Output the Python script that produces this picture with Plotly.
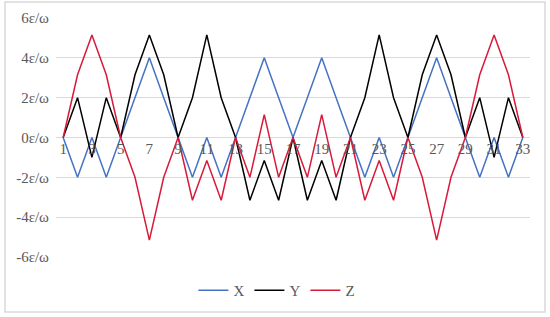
import plotly.graph_objects as go

# Data (units of epsilon/omega)
steps = list(range(1, 34))
x_vals = [0, -2, 0, -2, 0, 2, 4, 2, 0, -2, 0, -2, 0, 2, 4, 2, 0,
          2, 4, 2, 0, -2, 0, -2, 0, 2, 4, 2, 0, -2, 0, -2, 0]
y_vals = [0, 2, -1, 2, 0, 3.15, 5.15, 3.15, 0, 2, 5.15, 2, 0, -3.15, -1.15, -3.15, 0,
          -3.15, -1.15, -3.15, 0, 2, 5.15, 2, 0, 3.15, 5.15, 3.15, 0, 2, -1, 2, 0]
z_vals = [0, 3.15, 5.15, 3.15, 0, -2, -5.15, -2, 0, -3.15, -1.15, -3.15, 0, -2, 1.15, -2, 0,
          -2, 1.15, -2, 0, -3.15, -1.15, -3.15, 0, -2, -5.15, -2, 0, 3.15, 5.15, 3.15, 0]
y_ticks = [-6, -4, -2, 0, 2, 4, 6]
y_labels = [f"{v}ε/ω" for v in y_ticks]
x_ticks = steps[::2]

series = [("X", x_vals, "#4472C4"), ("Y", y_vals, "#000000"), ("Z", z_vals, "#D81A3A")]

fig = go.Figure()
for name, vals, color in series:
    fig.add_trace(go.Scatter(x=steps, y=vals, name=name, mode="lines",
                             line=dict(color=color, width=1.5)))

font = dict(family="Liberation Serif, Times New Roman, serif", color="#595959")

fig.update_layout(
    width=550, height=317,
    paper_bgcolor="white", plot_bgcolor="white",
    margin=dict(l=56, r=20, t=18, b=60, autoexpand=False),
    font=dict(size=13, **font),
    showlegend=True,
    legend=dict(orientation="h", x=0.466, xanchor="center", y=-0.14, yanchor="middle",
                font=dict(size=15, **font), itemwidth=30, tracegroupgap=0),
    xaxis=dict(range=[0.5, 33.5], tickmode="array", tickvals=x_ticks,
               ticktext=[str(t) for t in x_ticks], showgrid=False, zeroline=False,
               anchor="free", position=0.5, showline=False, ticks="",
               automargin=False, tickfont=dict(size=15, **font)),
    yaxis=dict(range=[-6, 6], tickmode="array", tickvals=y_ticks, ticktext=y_labels,
               showgrid=True, gridcolor="#d9d9d9", gridwidth=1, zeroline=False,
               ticks="", automargin=False, ticklabelstandoff=6,
               tickfont=dict(size=15, **font)),
    shapes=[dict(type="rect", xref="paper", yref="paper",
                 x0=-51 / 474, x1=489 / 474, y0=-55 / 239, y1=255 / 239,
                 line=dict(color="#d9d9d9", width=1.5), layer="below")],
)

# drop the default 8px page margin so the figure sits at the window corner
fig.write_html("out.html", config={"displayModeBar": False},
               post_script="document.body.style.margin='0px';")
